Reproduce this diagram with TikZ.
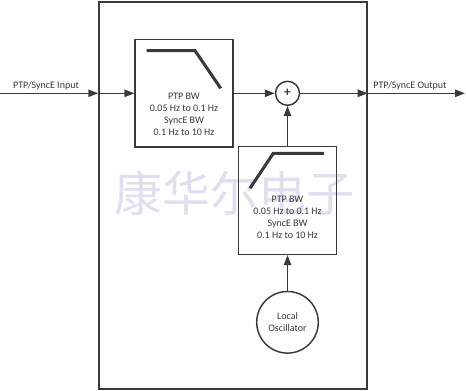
\documentclass[tikz,border=0pt]{standalone}
\usepackage{fontspec}
\setmainfont{Carlito}
\newfontfamily\cjk{Noto Sans CJK SC}
\usetikzlibrary{arrows.meta,positioning}
\definecolor{dkgray}{RGB}{58,58,58}
\definecolor{txtgray}{RGB}{55,55,55}
\definecolor{wmark}{RGB}{222,223,240}
\tikzset{
  blk/.style={draw=dkgray, line width=1.1pt, inner sep=0pt},
  sig/.style={draw=dkgray, line width=1.1pt, -{Triangle[length=7.5pt,width=5.5pt]}},
  resp/.style={draw=dkgray, line width=2.3pt},
  lbl/.style={font=\fontsize{7.5}{9}\selectfont, text=txtgray, inner sep=0.75pt, align=center}
}
\begin{document}
\begin{tikzpicture}[x=0.75pt,y=0.75pt,yscale=-1,xscale=1]
\useasboundingbox (0,0) rectangle (466,391);

% Watermark
\node (wm) at (234,193) [font=\cjk\fontsize{36}{36}\selectfont, text=wmark, inner sep=0pt] {康华尔电子};

%Shape: Rectangle (outer frame)
\node (frame) [blk, minimum width=201pt, minimum height=290.25pt] at (233,195.5) {};
%Shape: Rectangle (low-pass filter)
\node (lpf) [blk, minimum width=73.3pt, minimum height=80.8pt] at (184,93.3) {};
%Shape: Rectangle (high-pass filter)
\node (hpf) [blk, minimum width=73.3pt, minimum height=80.8pt] at (287.5,200.5) {};
%Shape: Circle (summing junction)
\node (sum) [blk, circle, minimum size=18pt] at (287.5,93.3) {};
%Shape: Circle (oscillator)
\node (osc) [blk, circle, minimum size=46.2pt, lbl] at (287.5,322.3) {Local\\Oscillator};
\node at (sum) [font=\fontsize{10}{10}\selectfont\bfseries, text=dkgray] {+};

%Filter responses
\draw [resp] (146.7,50.7) -- (195,50.7) -- (220.7,88.3);
\draw [resp] (250,188.3) -- (273.3,153.3) -- (324,153.3);

% Text Node
\node (lpftxt) at (184,114.7) [lbl] {PTP BW\\0.05 Hz to 0.1 Hz\\SyncE BW\\0.1 Hz to 10 Hz};
% Text Node
\node (hpftxt) at (287.5,217.2) [lbl] {PTP BW\\0.05 Hz to 0.1 Hz\\SyncE BW\\0.1 Hz to 10 Hz};

%Signal lines
\coordinate (in) at (0,93.3);
\coordinate (out) at (465,93.3);
\draw [sig] (in) -- (in -| frame.west);
\draw [sig] (in -| frame.west) -- (lpf.west);
\draw [sig] (lpf.east) -- (sum.west);
\draw [sig] (sum.east) -- (out -| frame.east);
\draw [sig] (out -| frame.east) -- (out);
\draw [sig] (hpf.north) -- (sum.south);
\draw [sig] (osc.north) -- (hpf.south);

% Text Node
\node (inlbl) at (46,86) [lbl] {PTP/SyncE Input};
% Text Node
\node (outlbl) at (410,86) [lbl] {PTP/SyncE Output};
\end{tikzpicture}
\end{document}
